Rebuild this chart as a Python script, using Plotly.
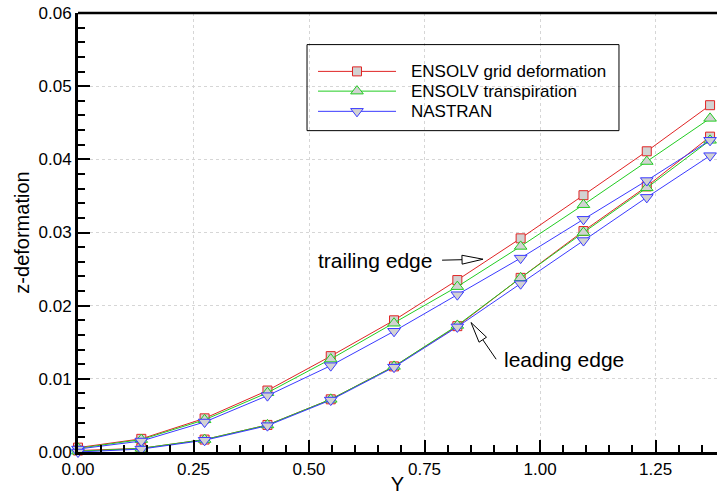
import plotly.graph_objects as go

# Spanwise stations
span_y = [0.0, 0.137, 0.274, 0.410, 0.547, 0.684, 0.821, 0.958, 1.094, 1.231, 1.368]

# z-deformation along the trailing edge
grid_te = [0.0006, 0.0018, 0.0046, 0.0084, 0.0131, 0.0180, 0.0235, 0.0292, 0.0351, 0.0411, 0.0474]
transp_te = [0.0005, 0.0017, 0.0044, 0.0081, 0.0127, 0.0176, 0.0226, 0.0281, 0.0338, 0.0397, 0.0456]
nastran_te = [0.0004, 0.0015, 0.0041, 0.0077, 0.0118, 0.0165, 0.0215, 0.0265, 0.0318, 0.0371, 0.0426]

# z-deformation along the leading edge
grid_le = [0.0002, 0.0005, 0.0017, 0.0037, 0.0072, 0.0117, 0.0172, 0.0238, 0.0302, 0.0363, 0.0431]
transp_le = [0.0001, 0.0005, 0.0017, 0.0037, 0.0072, 0.0117, 0.0173, 0.0238, 0.0300, 0.0361, 0.0426]
nastran_le = [0.0000, 0.0004, 0.0016, 0.0036, 0.0071, 0.0116, 0.0171, 0.0230, 0.0289, 0.0348, 0.0405]

series_names = ["ENSOLV grid deformation", "ENSOLV transpiration", "NASTRAN"]
x_ticks = [0.0, 0.25, 0.5, 0.75, 1.0, 1.25]
y_ticks = [0.0, 0.01, 0.02, 0.03, 0.04, 0.05, 0.06]

COLORS = ["#e02424", "#22cc22", "#3a3aff"]
SYMBOLS = ["square", "triangle-up", "triangle-down"]
SIZES = [9, 11, 11]
FILL = "#d2d2d2"
FONT = "Liberation Sans, Arial, sans-serif"

W, H = 717, 495
ML, MR, MT, MB = 78, 0, 13, 38
X_MAX = 1.383
Y_MAX = 0.06
PX_X = (W - ML - MR) / X_MAX
PX_Y = (H - MT - MB) / Y_MAX

fig = go.Figure()

te_sets = [grid_te, transp_te, nastran_te]
le_sets = [grid_le, transp_le, nastran_le]
for i, name in enumerate(series_names):
    for vals in (te_sets[i], le_sets[i]):
        fig.add_trace(go.Scatter(
            x=span_y, y=vals, mode="lines+markers", name=name,
            line=dict(color=COLORS[i], width=1),
            marker=dict(symbol=SYMBOLS[i], size=SIZES[i], color=FILL,
                        line=dict(color=COLORS[i], width=1)),
            cliponaxis=False, showlegend=False, hoverinfo="skip",
        ))

# Legend drawn on an overlay axis spanning the plot area (0..1 both ways)
leg_rows = [0.867, 0.822, 0.776]
for i, name in enumerate(series_names):
    fig.add_trace(go.Scatter(
        x=[0.3756, 0.4977], y=[leg_rows[i]] * 2, mode="lines",
        line=dict(color=COLORS[i], width=1), xaxis="x2", yaxis="y2",
        showlegend=False, hoverinfo="skip", cliponaxis=False))
    fig.add_trace(go.Scatter(
        x=[0.4366], y=[leg_rows[i]], mode="markers",
        marker=dict(symbol=SYMBOLS[i], size=SIZES[i], color=FILL,
                    line=dict(color=COLORS[i], width=1)),
        xaxis="x2", yaxis="y2", showlegend=False, hoverinfo="skip", cliponaxis=False))
    fig.add_annotation(x=0.518, y=leg_rows[i], xref="x2", yref="y2", text=name,
                       showarrow=False, xanchor="left", yanchor="middle",
                       font=dict(family=FONT, size=17, color="black"))

shapes = [
    dict(type="rect", xref="paper", yref="paper", x0=0.3584, x1=0.8466, y0=0.732, y1=0.928,
         line=dict(color="black", width=1), fillcolor="rgba(0,0,0,0)"),
    dict(type="line", xref="paper", yref="paper", x0=0, x1=1, y0=1, y1=1,
         line=dict(color="black", width=2.5)),
]


def hollow_arrow(x0, y0, x1, y1, head_len=21, head_half=4.5):
    """Line from (x0,y0) to (x1,y1) with an open triangular head at (x1,y1)."""
    dx, dy = (x1 - x0) * PX_X, (y1 - y0) * PX_Y
    length = (dx * dx + dy * dy) ** 0.5
    ux, uy = dx / length, dy / length
    bx, by = -ux * head_len, -uy * head_len
    px_, py_ = -uy * head_half, ux * head_half
    base = (x1 + bx / PX_X, y1 + by / PX_Y)
    c1 = (base[0] + px_ / PX_X, base[1] + py_ / PX_Y)
    c2 = (base[0] - px_ / PX_X, base[1] - py_ / PX_Y)
    line = dict(type="line", xref="x", yref="y", x0=x0, y0=y0, x1=base[0], y1=base[1],
                line=dict(color="black", width=1))
    head = dict(type="path", xref="x", yref="y",
                path=f"M{x1},{y1} L{c1[0]},{c1[1]} L{c2[0]},{c2[1]} Z",
                fillcolor="white", line=dict(color="black", width=1))
    return [line, head]


shapes += hollow_arrow(0.788, 0.02622, 0.8766, 0.02635)
shapes += hollow_arrow(0.905, 0.01268, 0.8506, 0.01770)

fig.add_annotation(x=0.643, y=0.02622, text="trailing edge", showarrow=False,
                   font=dict(family=FONT, size=21, color="black"))
fig.add_annotation(x=1.052, y=0.0127, text="leading edge", showarrow=False,
                   font=dict(family=FONT, size=21, color="black"))

axis_common = dict(
    showline=True, linecolor="black", linewidth=3, mirror=False,
    ticks="inside", ticklen=12, tickwidth=2, tickcolor="black",
    showgrid=True, gridcolor="#d6d6d6", gridwidth=1, griddash="dot",
    zeroline=False, tickfont=dict(family=FONT, size=17, color="black"),
)

fig.update_layout(
    width=W, height=H, margin=dict(l=ML, r=MR, t=MT, b=MB),
    paper_bgcolor="white", plot_bgcolor="white", showlegend=False,
    xaxis=dict(range=[0, X_MAX], tickvals=x_ticks,
               ticktext=[f"{v:.2f}" for v in x_ticks],
               minor=dict(ticks="inside", ticklen=7, tickwidth=1.5, dtick=0.05,
                          tick0=0, tickcolor="black", showgrid=False),
               title=dict(text="Y", standoff=2, font=dict(family=FONT, size=20, color="black")),
               **axis_common),
    yaxis=dict(range=[0, Y_MAX], tickvals=y_ticks,
               ticktext=[f"{v:.2f}" for v in y_ticks],
               minor=dict(ticks="inside", ticklen=7, tickwidth=1.5, dtick=0.002,
                          tick0=0, tickcolor="black", showgrid=False),
               title=dict(text="z-deformation", standoff=4,
                          font=dict(family=FONT, size=20, color="black")),
               **axis_common),
    xaxis2=dict(overlaying="x", range=[0, 1], visible=False, fixedrange=True),
    yaxis2=dict(overlaying="y", range=[0, 1], visible=False, fixedrange=True),
    shapes=shapes,
)

fig.write_html("out.html")
